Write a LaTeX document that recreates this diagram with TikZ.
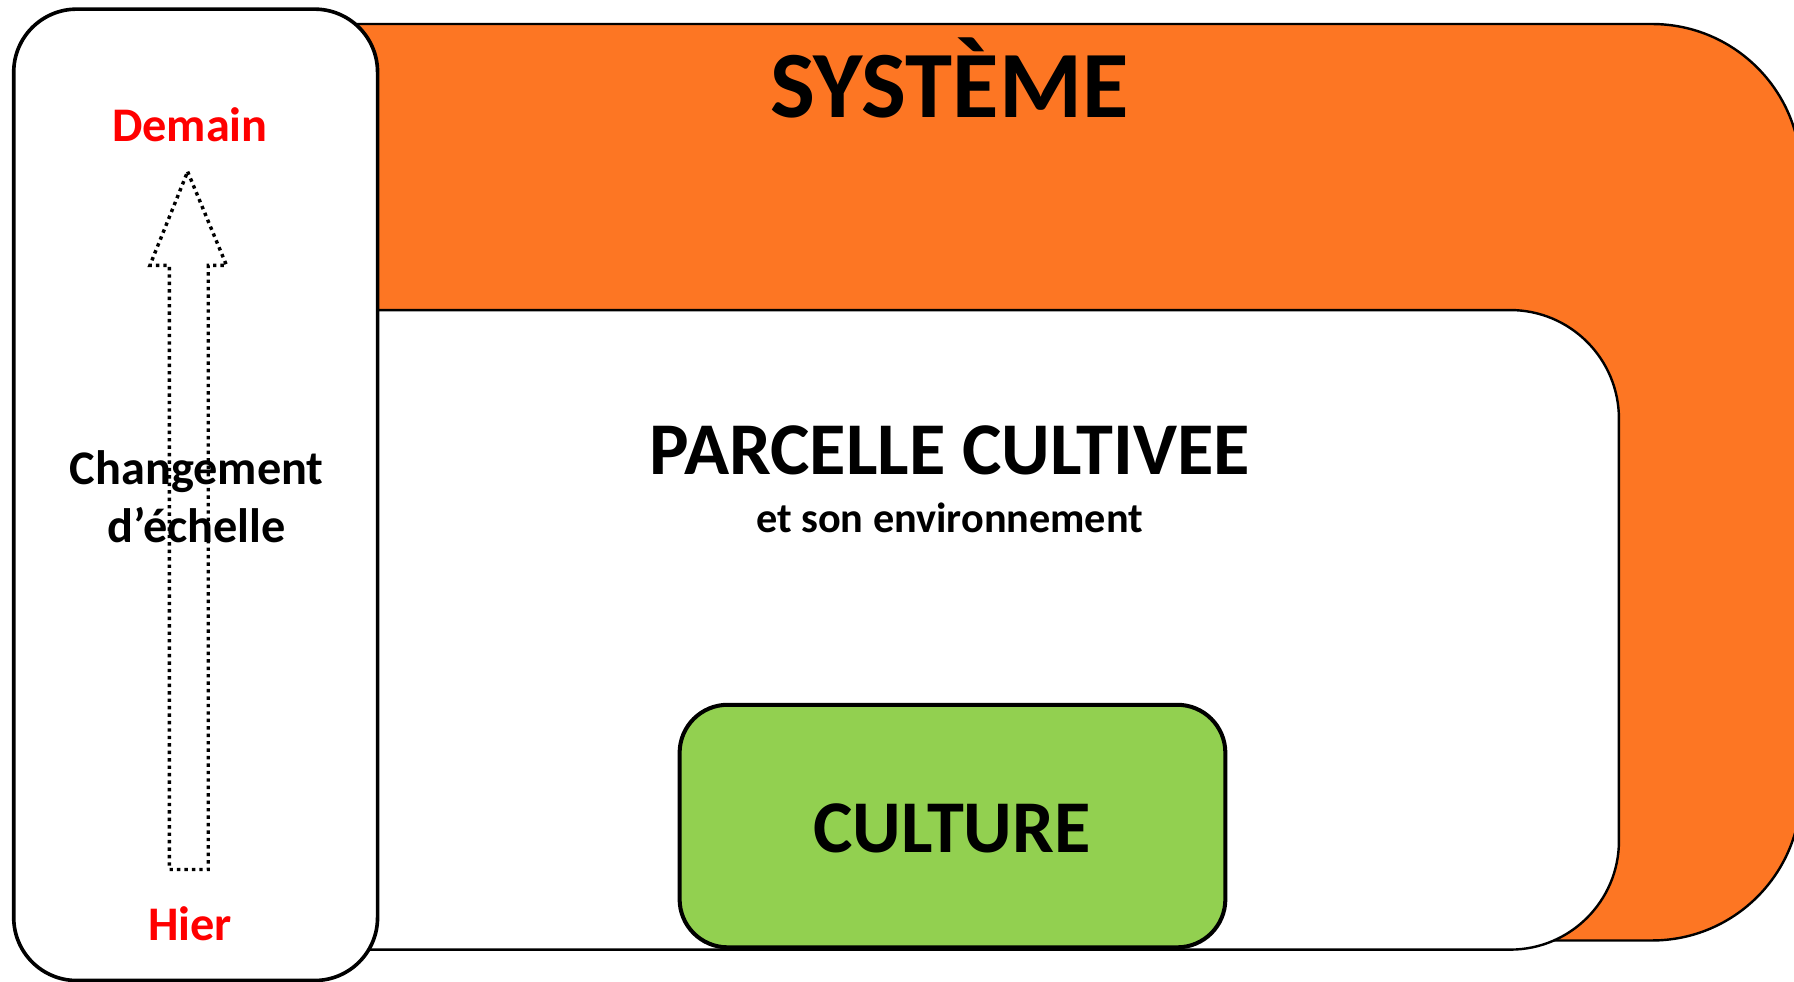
\documentclass[tikz,border=0pt]{standalone}
\usepackage{fontspec}
\setmainfont{Carlito}
\usetikzlibrary{positioning}

\definecolor{systemeorange}{RGB}{253,118,35}
\definecolor{culturegreen}{RGB}{146,208,80}
\definecolor{timered}{RGB}{255,0,0}

\begin{document}
\begin{tikzpicture}[x=0.01cm, y=-0.01cm]
\tikzset{systeme/.style =
        {
            draw=black,
            line width=0.6pt,
            fill=systemeorange,
            rounded corners=1.3cm
        }
}

\tikzset{parcelle/.style =
        {
            draw=black,
            line width=0.6pt,
            fill=white,
            rounded corners=0.95cm
        }
}

\tikzset{culturebox/.style =
        {
            draw=black,
            line width=1pt,
            fill=culturegreen,
            rounded corners=0.42cm
        }
}

\tikzset{timebox/.style =
        {
            draw=black,
            line width=0.9pt,
            fill=white,
            rounded corners=0.55cm
        }
}

\tikzset{scalearrow/.style =
        {
            draw=black,
            line width=0.85pt,
            dash pattern=on 0.85pt off 1pt
        }
}

\tikzset{title/.style =
        {
            anchor=base,
            inner sep=0pt,
            font=\bfseries\fontsize{23.6}{28}\selectfont
        }
}

\tikzset{level/.style =
        {
            title,
            font=\bfseries\fontsize{18.5}{22}\selectfont
        }
}

\tikzset{sub/.style =
        {
            title,
            font=\bfseries\fontsize{10.5}{13}\selectfont
        }
}

\tikzset{time/.style =
        {
            title,
            text=timered,
            font=\bfseries\fontsize{12}{14.5}\selectfont
        }
}

		\useasboundingbox (0,0) rectangle (1568,858);

		\draw[systeme] (100,21) rectangle (1574,822);
		\draw[parcelle] (100,271) rectangle (1415,830);
		\draw[culturebox] (594,616) rectangle (1071,828);

		\node[title] (systeme-label) at (830,103) {SYSTÈME};
		\node[level] (parcelle-label) at (830,415) {PARCELLE CULTIVEE};
		\node[sub] (parcelle-sub) at (830,465) {et son environnement};
		\node[level] (culture-label) at (832,745) {CULTURE};

		\draw[timebox] (12,8) rectangle (330,857);
		\draw[scalearrow] (164,150) -- (198,232) -- (182,232) -- (182,760)
			-- (148,760) -- (148,232) -- (131,232) -- cycle;

		\foreach \name / \txt / \ypos in
			{demain/Demain/124,
				hier/Hier/822}
		\node[time] (\name) at (166,\ypos) {\txt};

		\node[time, text=black, align=center, anchor=center] (changement) at (172,434)
			{Changement\\d’échelle};

	\end{tikzpicture}
\end{document}
